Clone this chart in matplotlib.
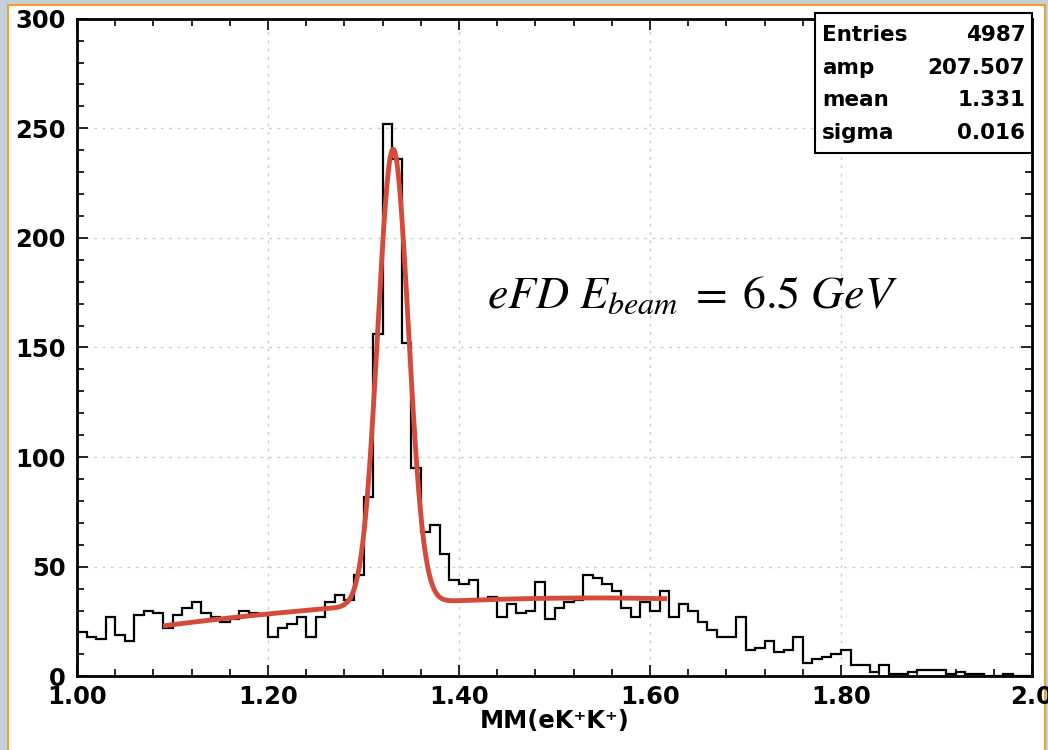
import numpy as np
import matplotlib
matplotlib.use("Agg")
import matplotlib.pyplot as plt
from matplotlib.patches import Rectangle
from matplotlib.ticker import MultipleLocator, FuncFormatter

# histogram MM(eK+K+), 100 bins from 1.0 to 2.0
bin_lo, bin_hi, n_bins = 1.0, 2.0, 100
counts = [
    20, 18, 17, 27, 19, 16, 28, 30, 29, 22,
    28, 31, 34, 29, 27, 25, 26, 30, 29, 28,
    18, 22, 24, 27, 18, 27, 34, 37, 35, 46,
    82, 156, 252, 236, 152, 95, 66, 69, 56, 44,
    42, 44, 35, 36, 27, 33, 29, 30, 43, 26,
    31, 34, 35, 46, 45, 42, 39, 31, 27, 34,
    30, 39, 27, 33, 30, 25, 21, 18, 18, 27,
    12, 13, 16, 11, 12, 18, 6, 8, 9, 10,
    12, 5, 5, 2, 5, 1, 1, 2, 3, 3,
    3, 1, 2, 1, 1, 0, 0, 1, 0, 0,
]

# fit: gaussian (from stats box) + quadratic background
entries = 4987
amp, mean, sigma = 207.507, 1.331, 0.016
bg_c0, bg_c1, bg_c2 = 23.0, 56.4, -62.4
fit_lo, fit_hi = 1.09, 1.618

edges = np.linspace(bin_lo, bin_hi, n_bins + 1)
xf = np.linspace(fit_lo, fit_hi, 600)
u = xf - fit_lo
yf = bg_c0 + bg_c1 * u + bg_c2 * u**2 + amp * np.exp(-0.5 * ((xf - mean) / sigma) ** 2)

plt.rcParams["mathtext.fontset"] = "stix"

fig = plt.figure(figsize=(10.48, 7.5), dpi=100, facecolor="#c5d0d8")
fig.patches.append(Rectangle((8 / 1048, -0.1), 1037 / 1048, 1.1 - 5 / 750,
                             transform=fig.transFigure, facecolor="white",
                             edgecolor="#f0a030", linewidth=1.5, zorder=-10))

ax = fig.add_axes([77 / 1048, 1 - 676.3 / 750, 955 / 1048, 657.6 / 750])
ax.set_facecolor("white")

ax.stairs(counts, edges, color="black", linewidth=1.6, zorder=3)
ax.plot(xf, yf, color="#d44b3c", linewidth=3.5, zorder=4, solid_capstyle="butt")

ax.set_xlim(1.0, 2.0)
ax.set_ylim(0, 300)
ax.xaxis.set_major_locator(MultipleLocator(0.2))
ax.xaxis.set_minor_locator(MultipleLocator(0.04))
ax.yaxis.set_major_locator(MultipleLocator(50))
ax.yaxis.set_minor_locator(MultipleLocator(10))
ax.xaxis.set_major_formatter(FuncFormatter(lambda v, p: "2.0" if v > 1.99 else f"{v:.2f}"))

ax.tick_params(which="both", direction="in", top=True, right=True, width=1.2)
ax.tick_params(which="major", length=8, labelsize=17.5)
ax.tick_params(axis="x", which="major", pad=6)
ax.tick_params(axis="y", which="major", pad=8)
ax.tick_params(which="minor", length=5)
for lab in ax.get_xticklabels() + ax.get_yticklabels():
    lab.set_fontweight("bold")

for s in ax.spines.values():
    s.set_linewidth(2)
ax.grid(True, which="major", color="#cccccc", linestyle=(0, (2, 4)), linewidth=1)
ax.set_axisbelow(True)

ax.set_xlabel("MM(eK\u207aK\u207a)", fontsize=17.5, fontweight="bold", labelpad=0)

# stats box
box = Rectangle((0.773, 0.796), 0.227, 0.212, transform=ax.transAxes,
                facecolor="white", edgecolor="black", linewidth=1.5,
                clip_on=False, zorder=5)
ax.add_patch(box)
rows = [("Entries", f"{entries}"), ("amp", f"{amp:.3f}"),
        ("mean", f"{mean:.3f}"), ("sigma", f"{sigma:.3f}")]
for i, (k, v) in enumerate(rows):
    yy = 0.966 - i * 0.0494
    ax.text(0.780, yy, k, transform=ax.transAxes, fontsize=15.5, fontweight="bold",
            va="baseline", ha="left", zorder=6)
    ax.text(0.993, yy, v, transform=ax.transAxes, fontsize=15.5, fontweight="bold",
            va="baseline", ha="right", zorder=6)

ax.text(1.429, 168, r"$eFD\ E_{beam}\;=\;6.5\ GeV$", fontsize=33, zorder=6)

fig.savefig("out.png", dpi=100, facecolor=fig.get_facecolor())
